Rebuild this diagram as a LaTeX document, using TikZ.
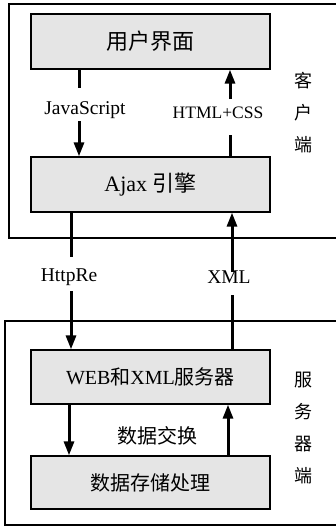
\documentclass[tikz,border=0pt]{standalone}
\usepackage{fontspec}
\setmainfont{Liberation Serif}
\newfontfamily\cjk{Noto Sans CJK SC}
\usetikzlibrary{arrows.meta}
\begin{document}
\begin{tikzpicture}[x=1pt,y=-1pt,
  outer/.style={draw,line width=1.3pt},
  module/.style={draw,line width=1.3pt,fill=black!10,minimum width=239pt,inner sep=0pt,font=\fontsize{20}{24}\selectfont},
  flow/.style={line width=3pt},
  flowarr/.style={line width=3pt,-{Triangle[length=14pt,width=10pt]}},
  lab/.style={inner sep=0pt,font=\fontsize{19.5}{23}\selectfont},
  side/.style={inner sep=0pt,align=center,font=\fontsize{18}{32}\selectfont\cjk}]
\useasboundingbox (0,0) rectangle (336,528);
\draw[outer] (9,4) rectangle (345,238);
\draw[outer] (5,321) rectangle (345,525);
\node[module,minimum height=55pt] (ui) at (150.5,41.5) {\cjk\fontsize{22}{26}\selectfont 用户界面};
\node[module,minimum height=55pt,font=\fontsize{22}{26}\selectfont] (ajax) at (150.5,184.5) {Ajax {\cjk 引擎}};
\node[module,minimum height=54pt] (web) at (150.5,377) {WEB{\cjk 和}XML{\cjk 服务器}};
\node[module,minimum height=53pt] (data) at (150.5,482.5) {\cjk 数据存储处理};
\node[lab] (js) at (85,110) {JavaScript};
\node[lab,font=\fontsize{17.5}{21}\selectfont] (html) at (218,113) {HTML+CSS};
\node[lab] (http) at (69,277) {HttpRe};
\node[lab] (xml) at (229,277) {XML};
\node[lab,font=\fontsize{20}{24}\selectfont\cjk] (swap) at (157,436) {数据交换};
\node[side] (client) at (303,112.5) {客\\户\\端};
\node[side] (server) at (303,428.5) {服\\务\\器\\端};
\coordinate (jsT) at (79,88);
\coordinate (jsB) at (79,121);
\coordinate (htT) at (230,99);
\coordinate (htB) at (230,135);
\coordinate (hrT) at (71,257);
\coordinate (hrB) at (71,291);
\coordinate (xmT) at (232,272);
\coordinate (xmB) at (232,295);
\coordinate (dn) at (69,0);
\coordinate (up) at (228,0);
\draw[flow] (ui.south -| jsT) -- (jsT);
\draw[flowarr] (jsB) -- (ajax.north -| jsB);
\draw[flow] (ajax.north -| htB) -- (htB);
\draw[flowarr] (htT) -- (ui.south -| htT);
\draw[flow] (ajax.south -| hrT) -- (hrT);
\draw[flowarr] (hrB) -- (web.north -| hrB);
\draw[flow] (web.north -| xmB) -- (xmB);
\draw[flowarr] (xmT) -- (ajax.south -| xmT);
\draw[flowarr] (web.south -| dn) -- (data.north -| dn);
\draw[flowarr] (data.north -| up) -- (web.south -| up);
\end{tikzpicture}
\end{document}
